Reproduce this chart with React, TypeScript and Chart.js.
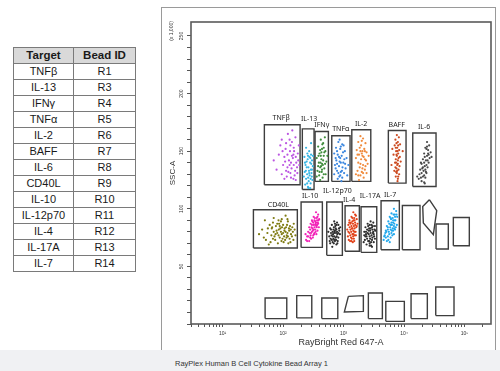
import React, { useEffect, useRef } from 'react';
import { Chart, registerables } from 'chart.js';

Chart.register(...registerables);

// ---------- table ----------
const tableTargets = ['TNFβ', 'IL-13', 'IFNγ', 'TNFα', 'IL-2', 'BAFF', 'IL-6', 'CD40L', 'IL-10', 'IL-12p70', 'IL-4', 'IL-17A', 'IL-7'];
const tableBeadIds = ['R1', 'R3', 'R4', 'R5', 'R6', 'R7', 'R8', 'R9', 'R10', 'R11', 'R12', 'R13', 'R14'];

// ---------- axes ----------
const xMajorTicks = [10, 100, 1000, 10000, 100000];
const xMajorLabels = ['10¹', '10²', '10³', '10⁴', '10⁵'];
const xTickValues = [
  3, 4, 5, 6, 7, 8, 9,
  10, 20, 30, 40, 50, 60, 70, 80, 90,
  100, 200, 300, 400, 500, 600, 700, 800, 900,
  1000, 2000, 3000, 4000, 5000, 6000, 7000, 8000, 9000,
  10000, 20000, 30000, 40000, 50000, 60000, 70000, 80000, 90000,
  100000, 200000,
];
const yTickValues = [0, 10, 20, 30, 40, 50, 60, 70, 80, 90, 100, 110, 120, 130, 140, 150, 160, 170, 180, 190, 200, 210, 220, 230, 240, 250];
const yLabeledTicks = [50, 100, 150, 200, 250];

// ---------- bead populations (RayBright Red 647-A, SSC-A x1000) ----------
const popTNFb = [[95,160],[120,165],[140,158],[160,162],[110,152],[130,150],[150,153],[175,148],[85,147],[105,145],[125,142],[145,144],[165,140],[185,138],[100,138],[118,136],[138,135],[158,133],[78,134],[95,130],[115,128],[135,127],[155,129],[172,131],[128,160],[112,157],[148,147],[90,155],[182,155],[135,140],[122,132],[162,125],[105,126],[142,168],[70,142],
  [132,155],[152,150],[118,147],[140,146],[162,145],[108,141],[128,138],[150,138],[170,136],[112,133],[132,131],[148,126],[98,150],[178,142]];
const popIL13 = [[240,153],[270,150],[290,147],[225,145],[255,143],[280,140],[300,142],[235,138],[262,136],[288,134],[310,137],[228,132],[250,130],[275,129],[298,128],[240,126],[265,124],[285,122],[305,125],[232,121],[258,119],[280,118],[245,141],[295,131],[268,133],[220,128],[312,146],[252,148],[290,157],[262,118],
  [258,146],[282,144],[246,136],[270,131],[292,139],[238,133],[260,127],[285,126],[250,122],[300,134],[272,145],[230,140]];
const popIFNg = [[420,160],[460,157],[380,154],[440,152],[500,150],[400,148],[470,146],[360,144],[430,143],[520,141],[390,140],[455,138],[410,136],[480,135],[370,133],[435,132],[505,130],[395,129],[450,127],[420,146],[470,153],[380,137],[540,146],[440,139],[360,128],[490,162],[410,125],
  [445,156],[410,151],[480,149],[430,149],[385,146],[460,142],[415,140],[495,139],[440,134],[400,132],[470,130],[425,137]];
const popTNFa = [[820,158],[950,156],[750,153],[880,152],[1050,150],[700,148],[800,147],[930,146],[1120,144],[760,142],[860,141],[990,140],[720,138],[840,137],[960,136],[1080,135],[780,133],[900,132],[1020,131],[700,130],[850,128],[950,127],[1150,129],[800,126],[880,144],[1000,155],[740,135],[1200,138],[920,124],[860,160],
  [900,154],[780,150],[980,149],[840,145],[1030,143],[900,140],[780,139],[1060,139],[820,131],[940,133],[880,129],[740,144]];
const popIL2 = [[1900,163],[2100,161],[1750,158],[2300,157],[1950,155],[2200,152],[1650,151],[2050,150],[2400,149],[1800,147],[2150,145],[1600,144],[1950,143],[2350,142],[1750,140],[2100,138],[2500,139],[1850,136],[2250,134],[1700,133],[2000,132],[2400,131],[1900,129],[2150,127],[1600,130],[2600,146],[2000,148],[1800,125],
  [2000,159],[1850,153],[2250,150],[1900,150],[2050,146],[1700,147],[2250,143],[1900,139],[2050,135],[2300,137],[1750,129],[2100,131]];
const popBAFF = [[7600,164],[8200,162],[7200,160],[7900,158],[8600,156],[7000,155],[7700,153],[8300,151],[7400,150],[8000,148],[6700,147],[7600,146],[8500,145],[7300,143],[7900,142],[7100,140],[7700,138],[8400,137],[7500,135],[8100,134],[6900,133],[7600,131],[8300,130],[7300,128],[7900,126],[8800,141],[6400,152],[9500,150],[7800,124],[6200,138],
  [7500,157],[8000,155],[7300,153],[7800,150],[7500,147],[8100,144],[7400,140],[7900,139],[7200,136],[7700,133],[8000,128],[7400,132]];
const popIL6 = [[24000,158],[26000,155],[22500,153],[25000,151],[27500,149],[21500,148],[24000,146],[26500,144],[20500,143],[23000,142],[25500,140],[19500,139],[22000,137],[24500,136],[18500,134],[21000,133],[23500,131],[18000,130],[20500,128],[22500,127],[17500,126],[19500,124],[21500,123],[25500,147],[20000,135],[23000,132],[28500,145],[16500,128],[19000,140],[22000,122],
  [23500,152],[25000,148],[22000,145],[24500,142],[21500,140],[23500,138],[20500,136],[22500,134],[19500,131],[21500,129],[19000,127],[24000,154]];
const popCD40L = [[50,90],[70,92],[95,91],[120,89],[60,86],[80,87],[100,86],[130,85],[150,87],[45,82],[65,83],[85,82],[105,81],[125,83],[145,80],[55,79],[75,78],[95,78],[115,77],[135,78],[160,77],[48,75],[68,74],[88,75],[108,73],[128,74],[148,73],[62,71],[82,70],[102,71],[122,70],[92,80],[112,84],[78,81],[98,74],[72,76],[118,79],[88,85],[140,76],[40,78],[58,69],[155,82],[110,94],
  [66,84],[76,85],[86,87],[96,84],[106,83],[116,86],[126,81],[70,80],[80,79],[90,83],[100,79],[110,80],[120,76],[64,77],[84,77],[104,76],[94,72],[74,73],[114,75],[134,82],[56,83],[142,84],[52,73],[132,71],[92,89],[118,91],[84,90],[68,88]];
const popIL10 = [[350,97],[380,95],[320,93],[360,92],[395,91],[300,90],[340,89],[375,88],[285,87],[320,86],[355,85],[390,84],[270,84],[305,83],[340,82],[370,81],[260,80],[290,79],[325,78],[355,78],[250,76],[280,75],[310,75],[240,73],[270,72],[300,86],[330,84],[310,81],[345,87],[285,77],[365,90],[235,78],
  [330,90],[350,88],[315,88],[340,86],[365,86],[295,84],[320,82],[345,80],[380,87],[300,80],[280,82],[330,79],[260,76],[290,74],[315,77],[360,84],[335,92],[305,89],[275,79],[250,72],[370,93],[385,90]];
const popIL12p70 = [[700,89],[780,88],[640,86],[730,85],[820,86],[600,83],[680,82],[760,82],[850,81],[620,79],[700,79],[790,78],[870,78],[580,76],[660,76],[740,75],[820,75],[640,73],[720,72],[800,72],[600,70],[690,70],[760,69],[710,80],[670,78],[750,79],[880,84],[560,80],[650,67],
  [690,84],[740,83],[660,80],[720,81],[780,80],[630,77],[700,76],[770,76],[680,74],[750,73],[610,74],[820,79],[720,87],[660,71],[790,70],[840,83],[590,72],[700,73],[760,86],[620,82]];
const popIL4 = [[1450,97],[1550,95],[1350,93],[1500,92],[1650,91],[1250,90],[1400,89],[1550,88],[1700,87],[1200,86],[1350,85],[1480,85],[1620,84],[1150,82],[1300,82],[1450,81],[1580,80],[1250,79],[1400,78],[1530,77],[1180,76],[1330,75],[1480,74],[1280,72],[1420,71],[1380,83],[1500,80],[1320,88],[1600,77],[1220,73],
  [1400,92],[1460,90],[1300,87],[1430,87],[1560,86],[1260,84],[1400,83],[1520,83],[1340,80],[1460,78],[1290,77],[1370,74],[1520,90],[1600,94],[1200,80],[1440,76],[1350,72],[1650,85],[1240,88],[1500,72]];
const popIL17A = [[2800,89],[3100,88],[2500,87],[2900,86],[3300,85],[2300,84],[2650,83],[3000,82],[3350,81],[2200,80],[2500,79],[2800,79],[3150,78],[2400,76],[2700,76],[3000,75],[3300,74],[2250,73],[2550,72],[2850,71],[3150,71],[2400,69],[2700,68],[2950,67],[2600,81],[2750,74],[2350,78],[3050,79],[2150,71],
  [2700,86],[2950,84],[2450,82],[2750,81],[3100,80],[2350,80],[2600,78],[2900,77],[3200,76],[2450,74],[2650,72],[2950,73],[2300,76],[2800,83],[3050,85],[2550,85],[2700,70],[3250,82],[2200,77],[2850,68]];
const popIL7 = [[6800,100],[7400,98],[6200,96],[7000,95],[7700,93],[5800,93],[6500,92],[7200,90],[5500,89],[6200,88],[6900,87],[7600,86],[5200,85],[5900,84],[6500,83],[7100,82],[5000,81],[5600,80],[6200,79],[6800,78],[4800,77],[5400,76],[6000,75],[4600,73],[5200,72],[5800,71],[6000,86],[6600,90],[5400,82],[6300,81],[4900,79],[7300,84],
  [6700,95],[7100,93],[6000,92],[6600,88],[7000,90],[5700,87],[6300,86],[6800,85],[5400,84],[6000,82],[6600,81],[5100,80],[5700,78],[6400,77],[5000,75],[5500,73],[6100,91],[7500,95],[4700,76],[6900,83]];

const populations = [popTNFb, popIL13, popIFNg, popTNFa, popIL2, popBAFF, popIL6, popCD40L, popIL10, popIL12p70, popIL4, popIL17A, popIL7];
const populationColors = ['#bb55e2', '#38b6e4', '#3f8c3c', '#3a86df', '#f08a3c', '#cc4a20', '#4a4a4a', '#7f7b12', '#f222b8', '#2e2e2e', '#e2421a', '#2e2e2e', '#22a8ec'];

// ---------- gates: rectangles [xMin, xMax, yMin, yMax] ----------
const upperGates = [
  [49, 191, 120.9, 172.9],
  [208, 325, 116.8, 169.4],
  [338, 561, 123.8, 167.1],
  [638, 1280, 123.8, 163.4],
  [1368, 2818, 123.8, 168.6],
  [5500, 10790, 122.3, 168.0],
  [13930, 33800, 119.4, 165.8],
];
const lowerGates = [
  [32.3, 172, 66.0, 99.2],
  [198.4, 446, 66.5, 105.9],
  [527, 955, 59.6, 105.9],
  [1059, 1824, 63.1, 102.6],
  [1945, 3538, 62.2, 101.8],
  [4168, 8360, 64.5, 107.0],
  [9380, 18370, 64.5, 102.9],
  [33800, 53950, 65.1, 86.8],
  [65300, 120000, 67.9, 92.5],
];
const bottomGates = [
  [50.4, 115, 4.7, 22.6],
  [168, 298, 5.3, 24.6],
  [436, 802, 4.7, 22.6],
  [2570, 4380, 4.7, 26.9],
  [4990, 10110, 2.3, 19.6],
  [13060, 24270, 4.7, 26.3],
  [33420, 67000, 7.3, 32.1],
];
// ---------- gates: polygons ----------
const pentagonGate = [[26190, 107.9], [34700, 98.4], [30500, 77.6], [20840, 87.7], [20370, 102.0]];
const quadGate = [[1200, 24.0], [2124, 24.6], [2124, 11.0], [1030, 10.5]];

// ---------- gate labels ----------
const gateLabelText = ['TNFβ', 'IL-13', 'IFNγ', 'TNFα', 'IL-2', 'BAFF', 'IL-6', 'CD40L', 'IL-10', 'IL-12p70', 'IL-4', 'IL-17A', 'IL-7'];
const gateLabelX = [93, 269, 436, 899, 1946, 7570, 21400, 83.6, 279, 790, 1233, 2740, 5870];
const gateLabelY = [178.8, 177.8, 172.4, 169.2, 173.6, 172.9, 171.4, 103, 110.8, 115.1, 107.9, 110.8, 112.2];

const rectToPoly = (r: number[]) => [
  { x: r[0], y: r[2] }, { x: r[1], y: r[2] }, { x: r[1], y: r[3] }, { x: r[0], y: r[3] }, { x: r[0], y: r[2] },
];
const polyToPoints = (p: number[][]) => [...p, p[0]].map(([x, y]) => ({ x, y }));

const overlayPlugin = {
  id: 'overlay',
  afterDatasetsDraw(chart: any) {
    const { ctx, chartArea: a } = chart;
    const xs = chart.scales.x;
    const ys = chart.scales.y;
    ctx.save();
    ctx.font = '7px "Noto Sans", "Liberation Sans", sans-serif';
    ctx.fillStyle = '#222';
    ctx.textAlign = 'center';
    ctx.textBaseline = 'middle';
    gateLabelText.forEach((t, i) => {
      ctx.fillText(t, xs.getPixelForValue(gateLabelX[i]), ys.getPixelForValue(gateLabelY[i]));
    });
    ctx.strokeStyle = '#5a5a5a';
    ctx.lineWidth = 1.6;
    ctx.strokeRect(a.left, a.top, a.right - a.left, a.bottom - a.top);
    ctx.translate(ys.left + 10, a.top + 9);
    ctx.rotate(-Math.PI / 2);
    ctx.font = '5px "Liberation Sans", Arial, sans-serif';
    ctx.fillStyle = '#333';
    ctx.fillText('(x 1,000)', 0, 0);
    ctx.restore();
  },
};

export default function App() {
  const ref = useRef<HTMLCanvasElement | null>(null);

  useEffect(() => {
    if (!ref.current) return;
    Chart.defaults.font.family = '"Liberation Sans", Arial, sans-serif';
    const gateStyle = {
      showLine: true, pointRadius: 0, borderColor: '#3e3e3e', borderWidth: 1.4, fill: false, tension: 0,
    };
    const datasets: any[] = [];
    populations.forEach((pop, i) => {
      datasets.push({
        data: pop.map(([x, y]) => ({ x, y })),
        backgroundColor: populationColors[i],
        pointRadius: 1.1,
        pointBorderWidth: 0,
        showLine: false,
      });
    });
    [...upperGates, ...lowerGates, ...bottomGates].forEach((r) => {
      datasets.push({ data: rectToPoly(r), ...gateStyle });
    });
    datasets.push({ data: polyToPoints(pentagonGate), ...gateStyle });
    datasets.push({ data: polyToPoints(quadGate), ...gateStyle });

    const chart = new Chart(ref.current, {
      type: 'scatter',
      data: { datasets },
      plugins: [overlayPlugin],
      options: {
        animation: false,
        responsive: false,
        events: [],
        layout: { padding: { top: 14, right: 4, left: 0, bottom: 0 } },
        plugins: { legend: { display: false }, tooltip: { enabled: false } },
        scales: {
          x: {
            type: 'logarithmic',
            min: 3,
            max: 274000,
            afterBuildTicks: (s: any) => { s.ticks = xTickValues.map((v) => ({ value: v })); },
            afterFit: (s: any) => { s.height = 25; },
            ticks: {
              autoSkip: false,
              maxRotation: 0,
              minRotation: 0,
              padding: 4,
              font: { size: 5 },
              color: '#333',
              callback: (v: any) => {
                const i = xMajorTicks.indexOf(Number(v));
                return i >= 0 ? xMajorLabels[i] : '';
              },
            },
            grid: { drawOnChartArea: false, drawTicks: true, tickLength: 3, color: '#555' },
            border: { display: false },
            title: { display: true, text: 'RayBright Red 647-A', font: { size: 9 }, color: '#333', padding: { top: 0, bottom: 1 } },
          },
          y: {
            type: 'linear',
            min: 0,
            max: 262.144,
            afterBuildTicks: (s: any) => { s.ticks = yTickValues.map((v) => ({ value: v })); },
            afterFit: (s: any) => { s.width = 29; },
            ticks: {
              autoSkip: false,
              minRotation: 90,
              maxRotation: 90,
              crossAlign: 'center',
              padding: 1,
              font: { size: 5 },
              color: '#333',
              callback: (v: any) => (yLabeledTicks.includes(Number(v)) ? String(v) : ''),
            },
            grid: { drawOnChartArea: false, drawTicks: true, tickLength: 4, color: '#555' },
            border: { display: false },
            title: { display: true, text: 'SSC-A', font: { size: 8 }, color: '#333', padding: { top: 6, bottom: 0 } },
          },
        },
      } as any,
    });
    return () => chart.destroy();
  }, []);

  const cell: React.CSSProperties = {
    border: '1px solid #7a7a7a', padding: 0, height: 15, lineHeight: '15px', textAlign: 'center', whiteSpace: 'nowrap',
  };
  const headCell: React.CSSProperties = { ...cell, fontWeight: 'bold', fontSize: 11.5 };

  return (
    <div style={{ position: 'fixed', left: 0, top: 0, width: 500, height: 371, background: '#fff', overflow: 'hidden', fontFamily: '"Liberation Sans", Arial, sans-serif' }}>
      <table style={{ position: 'absolute', left: 13, top: 47, borderCollapse: 'collapse', tableLayout: 'fixed', width: 122, fontSize: 11, color: '#1a1a1a' }}>
        <colgroup>
          <col style={{ width: 60 }} />
          <col style={{ width: 62 }} />
        </colgroup>
        <tbody>
          <tr style={{ background: '#d9d9d9' }}>
            <td style={headCell}>Target</td>
            <td style={headCell}>Bead ID</td>
          </tr>
          {tableTargets.map((t, i) => (
            <tr key={t}>
              <td style={cell}>{t}</td>
              <td style={cell}>{tableBeadIds[i]}</td>
            </tr>
          ))}
        </tbody>
      </table>
      <div style={{ position: 'absolute', left: 161, top: 7, width: 333, height: 343, borderLeft: '1px solid #9a9a9a', borderTop: '1px solid #9a9a9a', borderRight: '1px solid #9a9a9a' }}>
        <canvas ref={ref} width={333} height={341} style={{ display: 'block', width: 333, height: 341 }} />
      </div>
      <div style={{ position: 'absolute', left: 0, top: 350, width: 500, height: 21, background: '#f0f1f3' }}>
        <span style={{ position: 'absolute', left: 175, top: 9, fontSize: 7.5, lineHeight: '10px', color: '#333', whiteSpace: 'nowrap' }}>
          RayPlex Human B Cell Cytokine Bead Array 1
        </span>
      </div>
    </div>
  );
}
